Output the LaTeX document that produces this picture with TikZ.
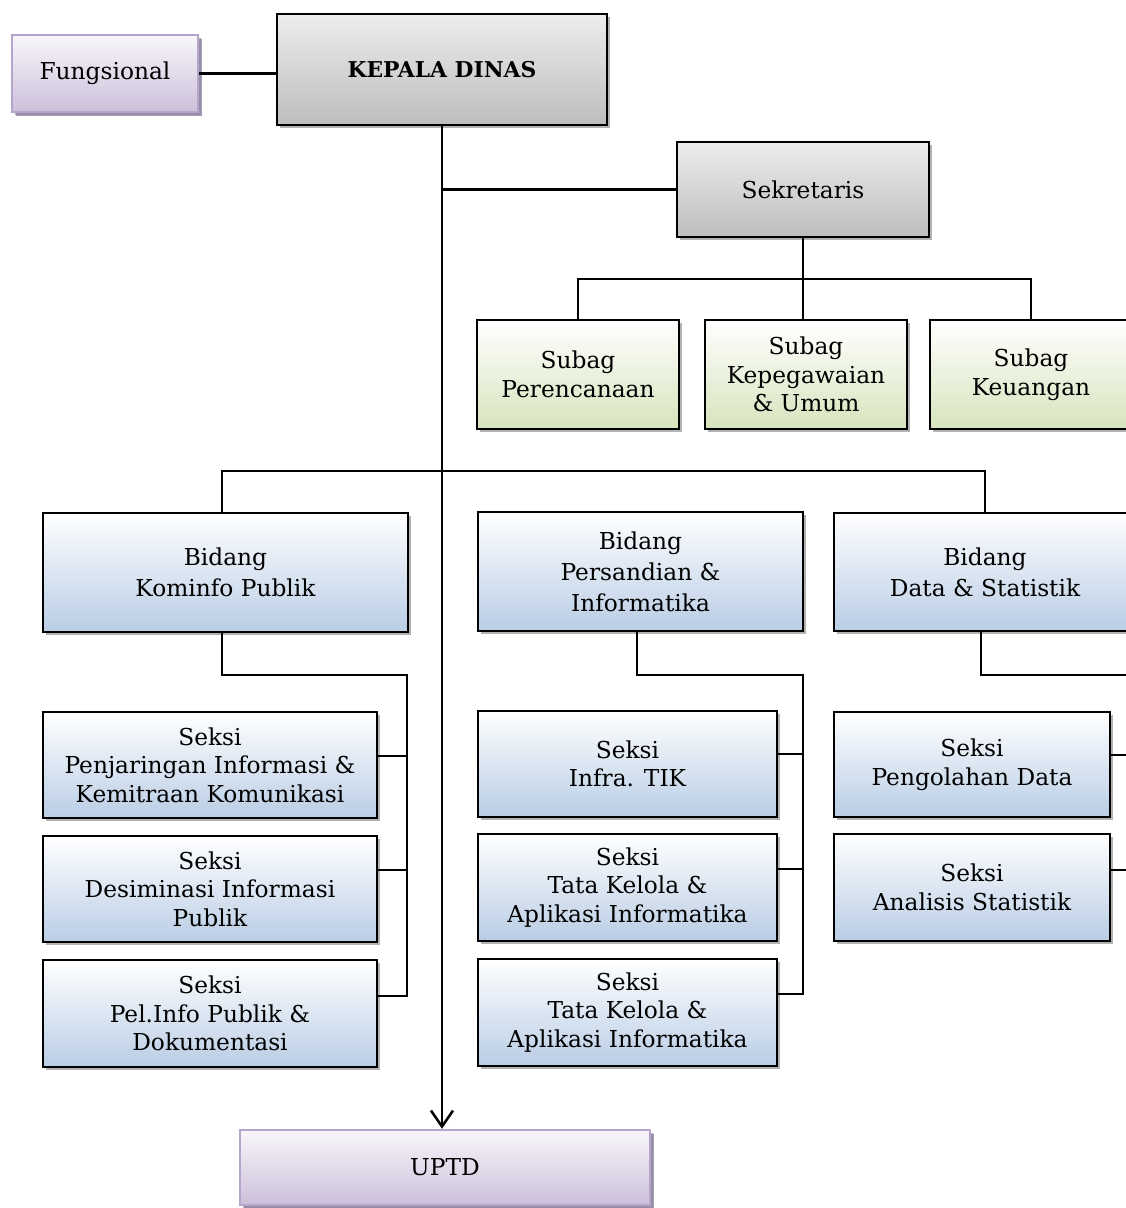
\documentclass[tikz,border=0pt]{standalone}
\usepackage{fontspec}
\setmainfont{DejaVu Serif}
\usetikzlibrary{shadows,arrows.meta}
\definecolor{grayT}{HTML}{EDEDED}
\definecolor{grayB}{HTML}{BDBDBD}
\definecolor{greenB}{HTML}{D7E4BD}
\definecolor{blueB}{HTML}{B9CDE5}
\definecolor{purpT}{HTML}{F8F6FB}
\definecolor{purpB}{HTML}{CCC0DA}
\definecolor{purpD}{HTML}{B5A5CC}
\begin{document}
\begin{tikzpicture}[x=1pt,y=-1pt,
  base/.style={draw=black, line width=2.5pt, align=center, inner sep=0pt,
    font=\fontsize{23.3}{28.5}\selectfont,
    drop shadow={shadow xshift=3pt,shadow yshift=-3pt,fill=black!30,opacity=1}},
  graybox/.style={base, top color=grayT, bottom color=grayB},
  greenbox/.style={base, top color=white, bottom color=greenB},
  bluebox/.style={base, top color=white, bottom color=blueB},
  bidbox/.style={bluebox, font=\fontsize{23.3}{31}\selectfont},
  purplebox/.style={base, draw=purpD, top color=purpT, bottom color=purpB,
    drop shadow={shadow xshift=4pt,shadow yshift=-4pt,fill=purpD!80!black,opacity=0.8}},
  conn/.style={draw=black, line width=2.5pt}]
\useasboundingbox (0,0) rectangle (1126,1208);
\clip (0,0) rectangle (1126,1208);

% top level
\node[purplebox, minimum width=186pt, minimum height=77pt] (fung) at (105,73.5) {Fungsional};
\node[graybox, minimum width=330pt, minimum height=111pt, font=\fontsize{21.8}{26}\selectfont\bfseries] (kepala) at (442,69.5) {KEPALA DINAS};
\node[graybox, minimum width=252pt, minimum height=95pt] (sek) at (803,189.5) {Sekretaris};

% subag
\node[greenbox, minimum width=202pt, minimum height=109pt] (sub1) at (578,374.5) {Subag\\Perencanaan};
\node[greenbox, minimum width=202pt, minimum height=109pt] (sub2) at (806,374.5) {Subag\\Kepegawaian\\\& Umum};
\node[greenbox, minimum width=202pt, minimum height=109pt] (sub3) at (1031,374.5) {Subag\\Keuangan};

% bidang
\node[bidbox, minimum width=365pt, minimum height=119pt] (bid1) at (225.5,572.5) {Bidang\\Kominfo Publik};
\node[bidbox, minimum width=325pt, minimum height=119pt] (bid2) at (640.5,571.5) {Bidang\\Persandian \&\\Informatika};
\node[bidbox, minimum width=302pt, minimum height=118pt] (bid3) at (985,572) {Bidang\\Data \& Statistik};

% seksi left
\node[bluebox, minimum width=334pt, minimum height=106pt] (s1a) at (210,765) {Seksi\\Penjaringan Informasi \&\\Kemitraan Komunikasi};
\node[bluebox, minimum width=334pt, minimum height=106pt] (s1b) at (210,889) {Seksi\\Desiminasi Informasi\\Publik};
\node[bluebox, minimum width=334pt, minimum height=107pt] (s1c) at (210,1013.5) {Seksi\\Pel.Info Publik \&\\Dokumentasi};

% seksi middle
\node[bluebox, minimum width=299pt, minimum height=106pt] (s2a) at (627.5,764) {Seksi\\Infra. TIK};
\node[bluebox, minimum width=299pt, minimum height=107pt] (s2b) at (627.5,887.5) {Seksi\\Tata Kelola \&\\Aplikasi Informatika};
\node[bluebox, minimum width=299pt, minimum height=107pt] (s2c) at (627.5,1012.5) {Seksi\\Tata Kelola \&\\Aplikasi Informatika};

% seksi right
\node[bluebox, minimum width=276pt, minimum height=105pt] (s3a) at (972,764.5) {Seksi\\Pengolahan Data};
\node[bluebox, minimum width=276pt, minimum height=107pt] (s3b) at (972,887.5) {Seksi\\Analisis Statistik};

% UPTD
\node[purplebox, minimum width=410pt, minimum height=75pt] (uptd) at (445,1167.5) {UPTD};

% connectors
\coordinate (k1) at (407,675);
\coordinate (k2) at (803,675);
\coordinate (k3) at (1140,675);

\draw[conn] (fung.east) -- (fung.east -| kepala.west);
\draw[conn, -{Straight Barb[length=16pt,width=22pt]}] (kepala.south) -- (kepala.south |- uptd.north);
\draw[conn] (sek.west) -- (sek.west -| kepala.south);

\draw[conn] (sek.south) -- (sek.south |- sub2.north);
\draw[conn] (sub1.north) -- (sub1.north |- 0,279) -- (sub3.north |- 0,279) -- (sub3.north);

\draw[conn] (bid1.north -| 222,0) -- (222,471) -- (bid3.north |- 0,471) -- (bid3.north);

\draw[conn] (bid1.south -| 222,0) |- (k1) -- (k1 |- 0,996) -- (s1c.east |- 0,996);
\draw[conn] (s1a.east |- 0,756) -- (k1 |- 0,756);
\draw[conn] (s1b.east |- 0,870) -- (k1 |- 0,870);

\draw[conn] (bid2.south -| 637,0) |- (k2) -- (k2 |- 0,994) -- (s2c.east |- 0,994);
\draw[conn] (s2a.east |- 0,754) -- (k2 |- 0,754);
\draw[conn] (s2b.east |- 0,869) -- (k2 |- 0,869);

\draw[conn] (bid3.south -| 981,0) |- (k3) -- (k3 |- 0,870);
\draw[conn] (s3a.east |- 0,755) -- (k3 |- 0,755);
\draw[conn] (s3b.east |- 0,870) -- (k3 |- 0,870);
\end{tikzpicture}
\end{document}
